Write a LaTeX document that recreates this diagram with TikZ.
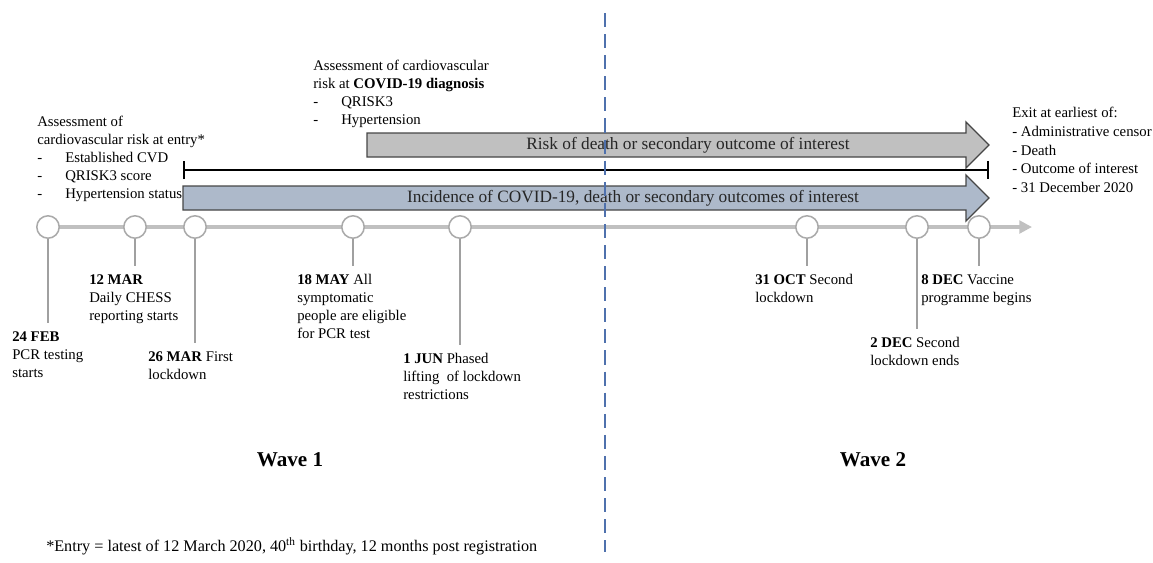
\documentclass[tikz,border=0pt]{standalone}
\usepackage{fontspec}
\setmainfont{Liberation Serif}
\usetikzlibrary{arrows.meta}

\definecolor{tlgray}{RGB}{192,192,192}
\definecolor{dotgray}{RGB}{170,170,170}
\definecolor{tickgray}{RGB}{160,160,160}
\definecolor{riskgray}{RGB}{192,192,192}
\definecolor{incblue}{RGB}{173,185,202}
\definecolor{edgegray}{RGB}{70,70,70}
\definecolor{splitblue}{RGB}{79,113,173}

\tikzset{
  evdot/.style={circle, draw=dotgray, fill=white, line width=1.1pt, minimum size=0.56cm, inner sep=0pt},
  evtick/.style={draw=tickgray, line width=0.8pt},
  evlabel/.style={anchor=north west, align=left, inner sep=0pt, font=\fontsize{10.5}{12.8}\selectfont},
  bigarrow/.style={draw=edgegray, line width=0.9pt},
  arrowtext/.style={inner sep=0pt, text=black!85, font=\fontsize{12.3}{14}\selectfont},
  wavelabel/.style={inner sep=0pt, font=\fontsize{15}{18}\selectfont\bfseries},
}
\newcommand{\dashitem}[1]{\makebox[0.7cm][l]{-}#1}

\begin{document}
\begin{tikzpicture}[x=0.025cm, y=-0.025cm]
    \useasboundingbox (0,0) rectangle (1153,562);

    % assessment blocks
    \node[evlabel] (entry) at (37,116) {Assessment of\\cardiovascular risk at entry*\\
      \dashitem{Established CVD}\\\dashitem{QRISK3 score}\\\dashitem{Hypertension status}};
    \node[evlabel] (diag) at (313,60) {Assessment of cardiovascular\\risk at \textbf{COVID-19 diagnosis}\\
      \dashitem{QRISK3}\\\dashitem{Hypertension}};
    \node[evlabel, font=\fontsize{10.5}{13.3}\selectfont] (exit) at (1012,107) {Exit at earliest of:\\- Administrative censor\\- Death\\- Outcome of interest\\- 31 December 2020};

    % follow-up arrows
    \filldraw[bigarrow, fill=riskgray] (367,133) -- (966,133) -- (966,122) -- (989,145)
      -- (966,168) -- (966,157) -- (367,157) -- cycle;
    \node[arrowtext] (risk) at (688,145) {Risk of death or secondary outcome of interest};

    \coordinate (fuL) at (183,170);
    \coordinate (fuR) at (989,170);
    \draw[line width=1.6pt, {Bar[width=13pt]}-{Bar[width=13pt]}] (fuL) -- (fuR);

    \filldraw[bigarrow, fill=incblue] (183,186) -- (966,186) -- (966,175) -- (989,198)
      -- (966,221) -- (966,210) -- (183,210) -- cycle;
    \node[arrowtext] (inc) at (633,198) {Incidence of COVID-19, death or secondary outcomes of interest};

    % timeline
    \coordinate (tlstart) at (48,227);
    \coordinate (tlend) at (1032,227);
    \draw[tlgray, line width=2.8pt, -{Triangle[length=9pt,width=9pt]}] (tlstart) -- (tlend);

    \foreach \i/\cx/\lx/\ly/\txt in {
      1/48/12/331/{\textbf{24 FEB}\\PCR testing\\starts},
      2/135/89/274/{\textbf{12 MAR}\\Daily CHESS\\reporting starts},
      3/195/148/351/{\textbf{26 MAR} First\\lockdown},
      4/353/297/274/{\textbf{18 MAY} All\\symptomatic\\people are eligible\\for PCR test},
      5/460/403/353/{\textbf{1 JUN} Phased\\lifting\ \ of lockdown\\restrictions},
      6/807/755/274/{\textbf{31 OCT} Second\\lockdown},
      7/917/870/337/{\textbf{2 DEC} Second\\lockdown ends},
      8/979/921/274/{\textbf{8 DEC} Vaccine\\programme begins}} {
      \node[evdot] (c\i) at (\cx,227) {};
      \coordinate (t\i) at (\cx,\ly-8);
      \draw[evtick] (c\i) -- (t\i);
      \node[evlabel] (l\i) at (\lx,\ly) {\txt};
    }

    % waves
    \node[wavelabel] (w1) at (290,460) {Wave 1};
    \node[wavelabel] (w2) at (873,460) {Wave 2};
    \coordinate (splittop) at (605,13);
    \coordinate (splitbot) at (605,552);
    \draw[splitblue, line width=1pt, dash pattern=on 10pt off 5pt] (splittop) -- (splitbot);

    \node[anchor=west, inner sep=0pt, font=\fontsize{11.5}{13}\selectfont] (note) at (46,546)
      {*Entry = latest of 12 March 2020, 40\textsuperscript{th} birthday, 12 months post registration};
  \end{tikzpicture}
\end{document}
